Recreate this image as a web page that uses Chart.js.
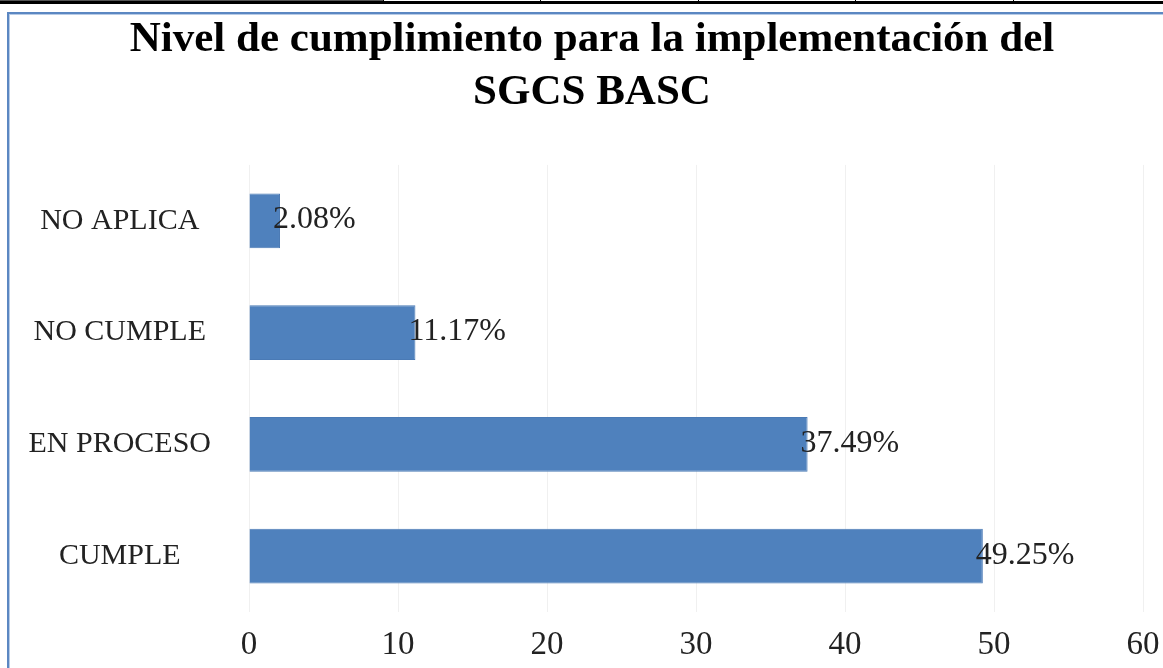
<!DOCTYPE html>
<html lang="es">
<head>
    <meta charset="UTF-8">
    <title>Nivel de cumplimiento SGCS BASC</title>
    <script src="https://cdn.jsdelivr.net/npm/chart.js"></script>
    <style>
        body {
            margin: 0;
            width: 1163px;
            height: 668px;
            overflow: hidden;
            background: #fff;
            position: relative;
            font-family: 'Liberation Serif', serif;
        }

        .top-rule {
            position: absolute;
            left: 0;
            top: 1px;
            width: 1163px;
            height: 3px;
            background: #000;
        }

        .top-rule-thin {
            position: absolute;
            left: 0;
            top: 0;
            width: 383px;
            height: 1px;
            background: #555;
        }

        .tick-mark {
            position: absolute;
            top: 0;
            width: 1px;
            height: 4px;
            background: #000;
        }

        .chart-box {
            position: absolute;
            left: 7px;
            top: 12px;
            width: 1170px;
            height: 680px;
            border-top: 2px solid #5b87c2;
            border-left: 2px solid #5b87c2;
            box-shadow: inset 1px 1px 0 #b7cbe6;
            background: #fff;
        }

        canvas {
            display: block;
        }
    </style>
</head>
<body>

    <div class="top-rule-thin"></div>
    <div class="top-rule"></div>
    <div class="tick-mark" style="left:383px"></div>
    <div class="tick-mark" style="left:540px"></div>
    <div class="tick-mark" style="left:698px"></div>
    <div class="tick-mark" style="left:855px"></div>
    <div class="tick-mark" style="left:1013px"></div>

    <div class="chart-box">
        <canvas id="cumplimientoChart" width="1166" height="678"></canvas>
    </div>

    <script>
        const categories = ["NO APLICA", "NO CUMPLE", "EN PROCESO", "CUMPLE"];
        const porcentajes = [2.08, 11.17, 37.49, 49.25];
        const etiquetas = ["2.08%", "11.17%", "37.49%", "49.25%"];
        const titulo = ["Nivel de cumplimiento para la implementación del", "SGCS BASC"];

        // data labels drawn right at the bar end, like the Excel original
        const barLabels = {
            id: "barLabels",
            afterDatasetsDraw(chart) {
                const ctx = chart.ctx;
                const meta = chart.getDatasetMeta(0);
                ctx.save();
                ctx.font = "32px 'Liberation Serif'";
                ctx.fillStyle = "#222";
                ctx.textAlign = "left";
                ctx.textBaseline = "middle";
                meta.data.forEach((bar, i) => {
                    ctx.fillText(etiquetas[i], bar.x - 7, bar.y - 1);
                });
                ctx.restore();
            }
        };

        new Chart(document.getElementById("cumplimientoChart"), {
            type: "bar",
            data: {
                labels: categories,
                datasets: [{
                    data: porcentajes,
                    backgroundColor: "#4f81bd",
                    borderColor: "#4a7ab5",
                    borderWidth: 1,
                    categoryPercentage: 1,
                    barPercentage: 0.49
                }]
            },
            options: {
                indexAxis: "y",
                responsive: false,
                animation: false,
                layout: { padding: 0 },
                plugins: {
                    legend: { display: false },
                    tooltip: { enabled: false },
                    title: {
                        display: true,
                        text: titulo,
                        color: "#000",
                        font: { family: "'Liberation Serif'", size: 43, weight: "bold", lineHeight: 1.22 },
                        padding: { top: 0, bottom: 46 }
                    }
                },
                scales: {
                    x: {
                        min: 0,
                        max: 60,
                        ticks: {
                            stepSize: 10,
                            color: "#222",
                            padding: 14,
                            font: { family: "'Liberation Serif'", size: 33 }
                        },
                        grid: { color: "#f0f0f0", drawTicks: false },
                        border: { display: false },
                        afterFit(scale) { scale.height = 80; }
                    },
                    y: {
                        ticks: {
                            color: "#222",
                            crossAlign: "center",
                            padding: 38,
                            font: { family: "'Liberation Serif'", size: 30 }
                        },
                        grid: { display: false, drawTicks: false },
                        border: { display: false },
                        afterFit(scale) { scale.width = 240; }
                    },
                    // empty right-hand strip, keeps room for the "60" tick
                    y2: {
                        position: "right",
                        ticks: { display: false },
                        grid: { display: false, drawTicks: false },
                        border: { display: false },
                        afterFit(scale) { scale.width = 32; }
                    }
                }
            },
            plugins: [barLabels]
        });
    </script>

</body>
</html>
